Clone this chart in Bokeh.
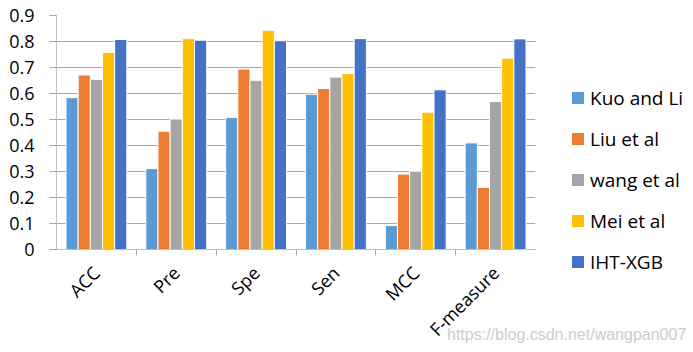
from math import pi
from bokeh.plotting import figure
from bokeh.layouts import row
from bokeh.models import (ColumnDataSource, FactorRange, Range1d, FixedTicker, CategoricalAxis, Div)
from bokeh.transform import dodge
from bokeh.embed import file_html
from bokeh.resources import INLINE

metrics = ["ACC", "Pre", "Spe", "Sen", "MCC", "F-measure"]
methods = ["Kuo and Li", "Liu et al", "wang et al", "Mei et al", "IHT-XGB"]
kuo_and_li = [0.584, 0.311, 0.508, 0.597, 0.092, 0.410]
liu_et_al = [0.671, 0.455, 0.694, 0.619, 0.290, 0.239]
wang_et_al = [0.654, 0.502, 0.651, 0.663, 0.301, 0.569]
mei_et_al = [0.758, 0.811, 0.843, 0.677, 0.528, 0.736]
iht_xgb = [0.808, 0.805, 0.803, 0.811, 0.614, 0.810]
y_ticks = [0, 0.1, 0.2, 0.3, 0.4, 0.5, 0.6, 0.7, 0.8, 0.9]
y_tick_labels = ["0", "0.1", "0.2", "0.3", "0.4", "0.5", "0.6", "0.7", "0.8", "0.9"]
watermark = "https://blog.csdn.net/wangpan007"

colors = ["#5b9bd5", "#ed7d31", "#a5a5a5", "#ffc000", "#4472c4"]
series = [kuo_and_li, liu_et_al, wang_et_al, mei_et_al, iht_xgb]
keys = ["s0", "s1", "s2", "s3", "s4"]

data = {"metric": metrics}
for k, s in zip(keys, series):
    data[k] = s
source = ColumnDataSource(data)

FONT = "Open Sans"

# ---------------- main chart ----------------
p = figure(width=560, height=352, output_backend="svg", toolbar_location=None,
           x_range=FactorRange(*metrics, range_padding=0), y_range=Range1d(0, 0.9),
           x_axis_location=None, min_border_left=56, min_border_right=25,
           min_border_top=15, min_border_bottom=100)
p.outline_line_color = None
p.xgrid.grid_line_color = None
p.ygrid.grid_line_color = "#a6a6a6"
p.ygrid.grid_line_width = 1
p.ygrid.ticker = FixedTicker(ticks=y_ticks)

ya = p.yaxis[0]
ya.ticker = FixedTicker(ticks=y_ticks)
ya.major_label_overrides = dict(zip(y_ticks, y_tick_labels))
ya.major_label_text_font = FONT
ya.major_label_text_font_size = "18px"
ya.major_label_text_color = "#000000"
ya.major_label_standoff = 15
ya.major_tick_out = 7
ya.major_tick_in = 0
ya.minor_tick_line_color = None
ya.major_tick_line_color = "#a6a6a6"
ya.axis_line_color = "#bfbfbf"

# boundary ticks: a second categorical range whose factor centres sit on the category edges
edge_factors = ["e%d" % i for i in range(len(metrics) + 1)]
p.extra_x_ranges = {"edges": FactorRange(*edge_factors, range_padding=-0.5,
                                         range_padding_units="absolute")}
edge_axis = CategoricalAxis(x_range_name="edges", major_label_text_font_size="0px",
                            major_label_text_color=None,
                            major_tick_out=6, major_tick_in=0, major_tick_line_color="#a6a6a6",
                            axis_line_color="#bfbfbf", major_label_standoff=0)
p.add_layout(edge_axis, "below")

cat_axis = CategoricalAxis(major_label_orientation=pi / 4, major_tick_line_color=None,
                           axis_line_color=None, major_label_text_font=FONT,
                           major_label_text_font_size="18px", major_label_text_color="#000000",
                           major_label_standoff=8)
p.add_layout(cat_axis, "below")

offsets = [-0.305, -0.1525, 0.0, 0.1525, 0.305]
for k, c, off in zip(keys, colors, offsets):
    p.vbar(x=dodge("metric", off, range=p.x_range), top=k, width=0.1525, source=source,
           fill_color=c, line_color="white", line_width=1)

# ---------------- legend panel (HTML text) ----------------
parts = []
for i, (name, c) in enumerate(zip(methods, colors)):
    top = 85.5 + 41 * i
    parts.append(
        '<div style="position:absolute;left:12px;top:%.1fpx;height:24px;display:flex;'
        'align-items:center;white-space:nowrap;font-family:\'Open Sans\';font-size:19px;'
        'color:#000000;line-height:24px">'
        '<span style="display:inline-block;width:12px;height:12px;background:%s;'
        'margin-right:6px"></span>%s</div>' % (top, c, name))
parts.append(
    '<div style="position:absolute;left:-113px;top:325px;white-space:nowrap;'
    'font-family:\'Liberation Sans\';font-size:16px;color:#cccccc;line-height:20px">%s</div>'
    % watermark)
legend_div = Div(width=133, height=352, margin=0, styles={"overflow": "visible"},
                 text='<div style="position:relative;width:133px;height:352px;overflow:visible">'
                      + "".join(parts) + "</div>")

layout = row(p, legend_div, spacing=0)
open("out.html", "w").write(file_html(layout, INLINE))
